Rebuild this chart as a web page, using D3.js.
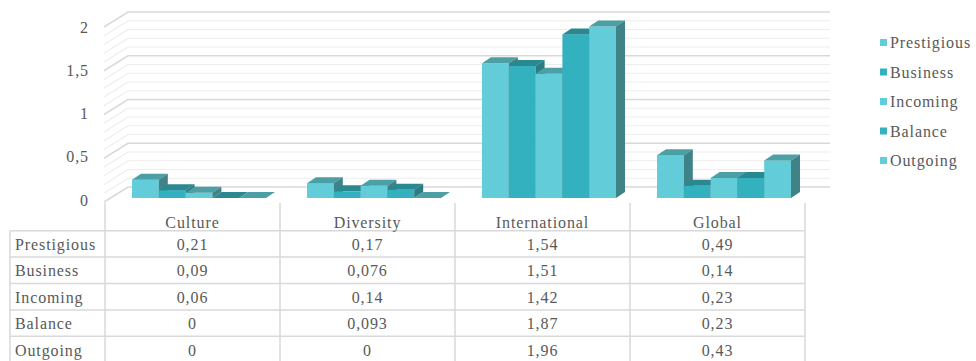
<!DOCTYPE html>
<html>
<head>
  <meta charset="utf-8"/>
  <title>3D columns with data table</title>
  <style type="text/css">
    body {
      padding:0;
      margin:0;
      background-color:white;
    }
    svg text {
      font-family: "Times New Roman", Times, "Liberation Serif", "Noto Serif", "DejaVu Serif", serif;
      font-size: 16px;
      letter-spacing: 0.9px;
      fill: #595959;
    }
  </style>
  <script src="https://cdn.jsdelivr.net/npm/d3@7/dist/d3.min.js" charset="utf-8"></script>
</head>
<body>
<script type="text/javascript">

  // DATA
  var categories = ["Culture", "Diversity", "International", "Global"];
  var seriesNames = ["Prestigious", "Business", "Incoming", "Balance", "Outgoing"];
  var prestigious = [0.21, 0.17, 1.54, 0.49];
  var business    = [0.09, 0.076, 1.51, 0.14];
  var incoming    = [0.06, 0.14, 1.42, 0.23];
  var balance     = [0, 0.093, 1.87, 0.23];
  var outgoing    = [0, 0, 1.96, 0.43];
  var yTicks = [0, 0.5, 1, 1.5, 2];
  var seriesValues = [prestigious, business, incoming, balance, outgoing];

  var w = 976, h = 361;

  // COLORS - light and dark teal alternate between series
  var frontLight = "#62cdd8", frontDark = "#33b1bf",
      topLight = "#4c9fa4",   topDark = "#2a8891",
      sideLight = "#3f8287",  sideDark = "#2e7c83",
      gridMajor = "#d9d9d9",  gridMinor = "#ededed",
      tableLine = "#d9d9d9";

  var fmt = function(v) { return String(v).replace(".", ","); };

  var svg = d3.select("body").append("svg")
              .attr("width", w)
              .attr("height", h);

  // scales: back wall, bar front plane, axis labels
  var yBack = d3.scaleLinear().domain([0, 2]).range([187, 12]);
  var yBar = d3.scaleLinear().domain([0, 2]).range([198, 23]);
  var yLabel = d3.scaleLinear().domain([0, 2]).range([200, 27]);
  var xCat = d3.scaleBand().domain(categories).range([105, 805]);
  var xSer = d3.scaleBand().domain(seriesNames).range([27, 161]);

  var wallDx = 24, wallDy = 15;   // depth of the walls
  var barDx = 9, barDy = 6;       // depth of each column
  var gridRight = 830;

  // gridlines (minor every 0.1, major every 0.5)
  var gridGroup = svg.append("g").attr("id", "grid");
  var minor = d3.range(0, 21).map(function(i) { return i / 10; })
                .filter(function(v) { return yTicks.indexOf(v) < 0; });

  function gridPath(v) {
    var yb = yBack(v);
    return "M" + (104) + "," + (yb + wallDy) + "L" + (104 + wallDx) + "," + yb + "L" + gridRight + "," + yb;
  }

  gridGroup.selectAll("path.minor").data(minor).enter().append("path")
           .attr("class", "minor")
           .attr("d", gridPath)
           .attr("fill", "none")
           .attr("stroke", gridMinor)
           .attr("stroke-width", 1.2);

  gridGroup.selectAll("path.major").data(yTicks).enter().append("path")
           .attr("class", "major")
           .attr("d", gridPath)
           .attr("fill", "none")
           .attr("stroke", gridMajor)
           .attr("stroke-width", 1.5);

  // y axis labels
  var yAxis = d3.axisLeft(yLabel).tickValues(yTicks).tickSize(0).tickPadding(0).tickFormat(fmt);
  var yAxisG = svg.append("g").attr("transform", "translate(89,0)").call(yAxis);
  yAxisG.select(".domain").remove();
  yAxisG.attr("font-family", null).attr("font-size", null);
  yAxisG.selectAll("text").attr("fill", null);

  // bars
  var bars = [];
  categories.forEach(function(cat, ci) {
    seriesNames.forEach(function(s, si) {
      bars.push({cat: cat, series: s, idx: si, value: seriesValues[si][ci]});
    });
  });

  var barGroup = svg.append("g").attr("id", "bars");
  var barG = barGroup.selectAll("g.bar").data(bars).enter().append("g").attr("class", "bar");

  function bx(d) { return xCat(d.cat) + xSer(d.series); }
  var bw = xSer.bandwidth();
  var base = yBar(0);

  barG.append("rect")
      .attr("x", bx)
      .attr("y", function(d) { return yBar(d.value); })
      .attr("width", bw)
      .attr("height", function(d) { return base - yBar(d.value); })
      .attr("fill", function(d) { return d.idx % 2 ? frontDark : frontLight; });

  barG.append("path")
      .attr("d", function(d) {
        var x0 = bx(d), yt = yBar(d.value);
        return "M" + x0 + "," + yt + "L" + (x0 + barDx) + "," + (yt - barDy) +
               "L" + (x0 + bw + barDx) + "," + (yt - barDy) + "L" + (x0 + bw) + "," + yt + "Z";
      })
      .attr("fill", function(d) { return d.idx % 2 ? topDark : topLight; });

  barG.append("path")
      .attr("d", function(d) {
        var x1 = bx(d) + bw, yt = yBar(d.value);
        return "M" + x1 + "," + yt + "L" + (x1 + barDx) + "," + (yt - barDy) +
               "L" + (x1 + barDx) + "," + (base - barDy) + "L" + x1 + "," + base + "Z";
      })
      .attr("fill", function(d) { return d.idx % 2 ? sideDark : sideLight; });

  // data table
  var tableTop = 203, headerBottom = 230.7, rowH = 26.4, tableLeft = 10;
  var tableG = svg.append("g").attr("id", "table");
  var rowsY = seriesNames.map(function(s, i) { return headerBottom + i * rowH; });

  // horizontal lines
  tableG.selectAll("line.h").data(rowsY.concat([headerBottom + 5 * rowH])).enter().append("line")
        .attr("class", "h")
        .attr("x1", tableLeft).attr("x2", 805)
        .attr("y1", function(d) { return d; }).attr("y2", function(d) { return d; })
        .attr("stroke", tableLine).attr("stroke-width", 1.5);

  // vertical lines
  var vx = categories.map(function(c) { return xCat(c); }).concat([xCat.range()[1]]);
  tableG.selectAll("line.v").data(vx).enter().append("line")
        .attr("class", "v")
        .attr("x1", function(d) { return d; }).attr("x2", function(d) { return d; })
        .attr("y1", tableTop).attr("y2", h + 5)
        .attr("stroke", tableLine).attr("stroke-width", 1.5);

  tableG.append("line")
        .attr("x1", tableLeft).attr("x2", tableLeft)
        .attr("y1", headerBottom).attr("y2", h + 5)
        .attr("stroke", tableLine).attr("stroke-width", 1.5);

  // header
  tableG.selectAll("text.head").data(categories).enter().append("text")
        .attr("class", "head")
        .attr("x", function(d) { return xCat(d) + xCat.bandwidth() / 2; })
        .attr("y", 222)
        .attr("text-anchor", "middle")
        .attr("dominant-baseline", "central")
        .text(function(d) { return d; });

  // row labels and values
  seriesNames.forEach(function(s, si) {
    var cy = rowsY[si] + rowH / 2 + 0.5;
    tableG.append("text")
          .attr("x", 15)
          .attr("y", cy)
          .attr("dominant-baseline", "central")
          .text(s);
    tableG.selectAll("text.v" + si).data(seriesValues[si]).enter().append("text")
          .attr("class", "v" + si)
          .attr("x", function(d, ci) { return xCat(categories[ci]) + xCat.bandwidth() / 2; })
          .attr("y", cy)
          .attr("text-anchor", "middle")
          .attr("dominant-baseline", "central")
          .text(fmt);
  });

  // legend
  var legend = svg.append("g").attr("id", "legend");
  var legendItem = legend.selectAll("g").data(seriesNames).enter().append("g")
                         .attr("transform", function(d, i) { return "translate(880," + (42.5 + i * 29.5) + ")"; });
  legendItem.append("rect")
            .attr("x", 0).attr("y", -3.5)
            .attr("width", 7).attr("height", 7)
            .attr("fill", function(d, i) { return i % 2 ? frontDark : frontLight; });
  legendItem.append("text")
            .attr("x", 10).attr("y", 0)
            .attr("dominant-baseline", "central")
            .text(function(d) { return d; });

</script>
</body>
</html>
